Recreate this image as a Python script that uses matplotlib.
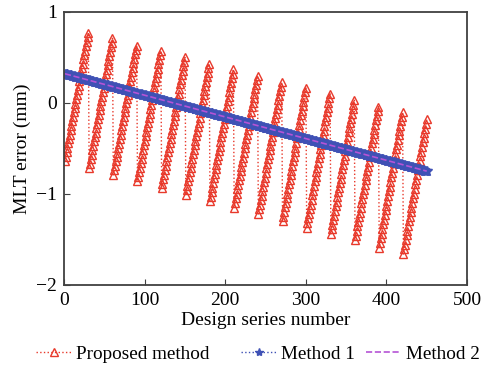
import numpy as np
import matplotlib.pyplot as plt

plt.rcParams['font.family'] = ['Liberation Serif', 'DejaVu Serif']

# Proposed method: 15 ramps of 30 designs each (start / end value of each ramp)
ramp_len = 30
ramp_low = [-0.64, -0.72, -0.79, -0.86, -0.94, -1.01, -1.08, -1.15,
            -1.22, -1.30, -1.37, -1.44, -1.51, -1.59, -1.66]
ramp_high = [0.77, 0.71, 0.63, 0.57, 0.50, 0.43, 0.37, 0.30,
             0.23, 0.165, 0.10, 0.03, -0.04, -0.10, -0.18]

# Method 1 / Method 2: straight trends (value at first and last design)
m1_ends = [0.32, -0.75]
m2_ends = [0.32, -0.75]

x_ticks = [0, 100, 200, 300, 400, 500]
y_ticks = [-2, -1, 0, 1]
labels = ['Proposed method', 'Method 1', 'Method 2']

proposed = np.concatenate([np.linspace(lo, hi, ramp_len)
                           for lo, hi in zip(ramp_low, ramp_high)])
x = np.arange(1, len(proposed) + 1)
m1 = np.linspace(m1_ends[0], m1_ends[1], len(x))
m2 = np.linspace(m2_ends[0], m2_ends[1], len(x))

red = '#e8392b'
blue = '#3f51b5'
purple = '#b554d6'

fig = plt.figure(figsize=(4.86, 3.71), dpi=100)
ax = fig.add_axes([0.132, 0.232, 0.829, 0.736])

ax.plot(x, proposed, ':', color=red, lw=1.0, marker='^', ms=6,
        mfc='none', mec=red, mew=1.0)
ax.plot(x, m1, ':', color=blue, lw=1.0, marker='*', ms=7,
        mfc=blue, mec=blue)
ax.plot(x, m2, '--', color=purple, lw=1.2)

ax.set_xlim(0, 500)
ax.set_ylim(-2, 1)
ax.set_xticks(x_ticks)
ax.set_yticks(y_ticks)
ax.tick_params(direction='in', length=4, labelsize=14, color='#404040',
               top=False, right=False, pad=5)
for s in ax.spines.values():
    s.set_color('#404040')
    s.set_linewidth(1.3)

ax.set_xlabel('Design series number', fontsize=14, labelpad=2)
ax.set_ylabel('MLT error (mm)', fontsize=14, labelpad=4)

# legend handles (small markers like the original legend)
h1, = ax.plot([], [], ':', color=red, lw=1.0, marker='^', ms=6,
              mfc='none', mec=red, mew=1.0)
h2, = ax.plot([], [], ':', color=blue, lw=1.0, marker='*', ms=6,
              mfc=blue, mec=blue)
h3, = ax.plot([], [], '--', color=purple, lw=1.2)

for h, lab, x0 in zip([h1, h2, h3], labels, [36, 241, 366]):
    fig.legend(handles=[h], labels=[lab], loc='center left',
               bbox_to_anchor=(x0 / 486, 0.046), frameon=False,
               fontsize=13.8, handlelength=1.85, handletextpad=0.25,
               borderpad=0, borderaxespad=0, numpoints=1)

fig.savefig('out.png', dpi=100)
